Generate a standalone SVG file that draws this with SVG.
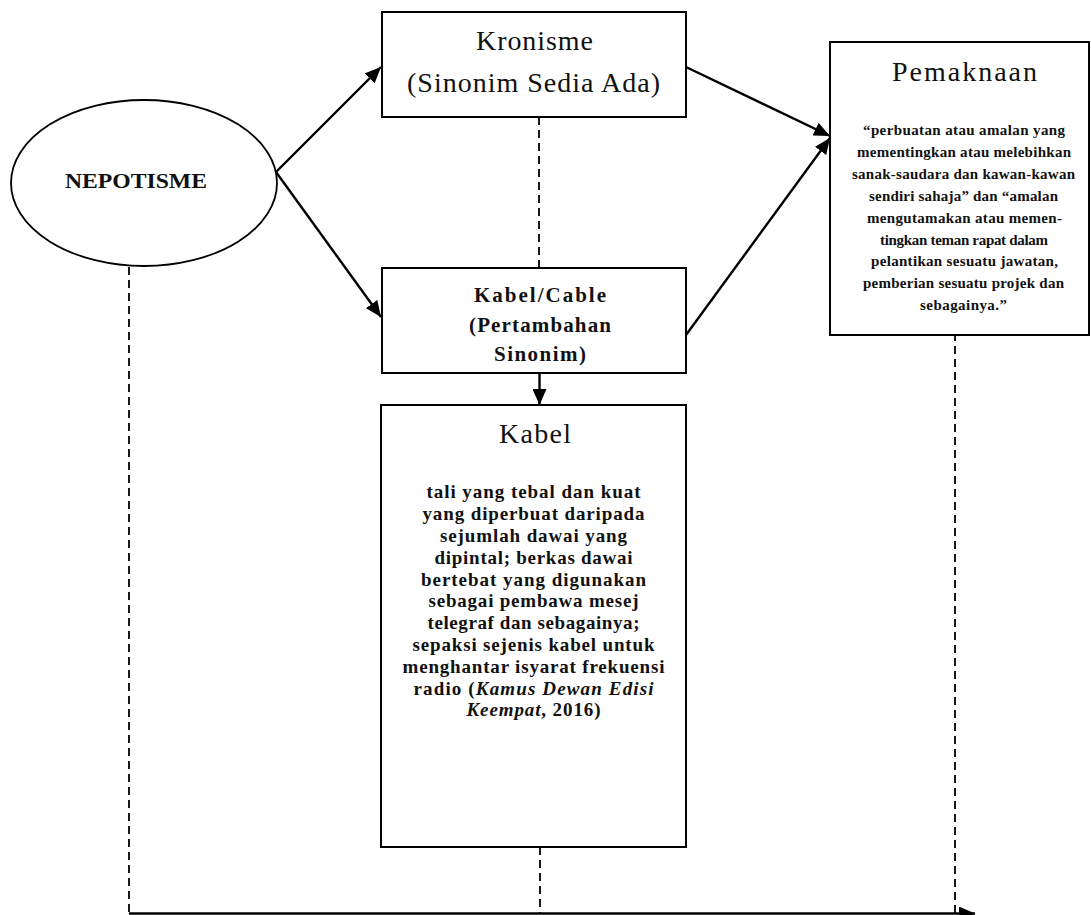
<svg xmlns="http://www.w3.org/2000/svg" width="1091" height="915" viewBox="0 0 1091 915">
<style>
.box{fill:#fff;stroke:#000;stroke-width:2}
.ell{fill:#fff;stroke:#000;stroke-width:1.8}
.ln{fill:none;stroke:#000;stroke-width:2.4}
.dash{fill:none;stroke:#000;stroke-width:1.8;stroke-dasharray:8 5}
text{font-family:"Liberation Serif","Times New Roman",serif;fill:#111;text-anchor:middle}
.t1{font-size:28px}
.tb{font-weight:bold}
.sm{font-size:15px;font-weight:bold}
.md{font-size:19px;font-weight:bold}
.kc{font-size:21px;font-weight:bold}
</style>
<defs>
<marker id="ah" viewBox="0 0 16 14" refX="16" refY="7" markerWidth="16" markerHeight="14" markerUnits="userSpaceOnUse" orient="auto">
<path d="M0,0 L16,7 L0,14 z" fill="#000"/>
</marker>
</defs>
<g id="connectors">
<line class="dash" x1="539" y1="117" x2="539" y2="268"/>
<line class="dash" x1="129" y1="267" x2="129" y2="913"/>
<line class="dash" x1="540" y1="847" x2="540" y2="913"/>
<line class="dash" x1="955" y1="320" x2="955" y2="913"/>
<line class="ln" x1="129" y1="913.5" x2="975" y2="913.5" stroke-width="1.5" marker-end="url(#ah)"/>
<line class="ln" x1="276" y1="172" x2="381" y2="67" marker-end="url(#ah)"/>
<line class="ln" x1="276" y1="172" x2="381" y2="317" marker-end="url(#ah)"/>
<line class="ln" x1="686" y1="67" x2="830" y2="136" marker-end="url(#ah)"/>
<line class="ln" x1="686" y1="335" x2="830" y2="138" marker-end="url(#ah)"/>
<line class="ln" x1="539.5" y1="373" x2="539.5" y2="405" marker-end="url(#ah)"/>
</g>
<g id="nepotisme">
<ellipse class="ell" cx="144" cy="183" rx="133" ry="83"/>
<text class="tb" x="136" y="188" font-size="21" textLength="142" lengthAdjust="spacingAndGlyphs">NEPOTISME</text>
</g>
<g id="kronisme">
<rect class="box" x="382" y="12" width="304" height="105"/>
<text class="t1" x="534.5" y="50" textLength="117">Kronisme</text>
<text class="t1" x="533.5" y="92" textLength="253">(Sinonim Sedia Ada)</text>
</g>
<g id="kabel-cable">
<rect class="box" x="382" y="268" width="304" height="105"/>
<text class="kc" x="540" y="302" textLength="132">Kabel/Cable</text>
<text class="kc" x="540" y="332" textLength="142">(Pertambahan</text>
<text class="kc" x="540" y="361" textLength="92">Sinonim)</text>
</g>
<g id="kabel">
<rect class="box" x="381" y="405" width="305" height="442"/>
<text class="t1" x="535" y="443" textLength="72">Kabel</text>
<text class="md" x="533.5" y="498.3" textLength="214">tali yang tebal dan kuat</text>
<text class="md" x="533.5" y="520.1" textLength="222">yang diperbuat daripada</text>
<text class="md" x="533.5" y="541.9" textLength="187">sejumlah dawai yang</text>
<text class="md" x="533.5" y="563.7" textLength="198">dipintal; berkas dawai</text>
<text class="md" x="533.5" y="585.5" textLength="225">bertebat yang digunakan</text>
<text class="md" x="533.5" y="607.3" textLength="210">sebagai pembawa mesej</text>
<text class="md" x="533.5" y="629.1" textLength="212">telegraf dan sebagainya;</text>
<text class="md" x="533.5" y="650.9" textLength="242">sepaksi sejenis kabel untuk</text>
<text class="md" x="533.5" y="672.7" textLength="262">menghantar isyarat frekuensi</text>
<text class="md" x="533.5" y="694.5" textLength="240">radio (<tspan font-style="italic">Kamus Dewan Edisi</tspan></text>
<text class="md" x="533.5" y="716.3" textLength="134"><tspan font-style="italic">Keempat</tspan>, 2016)</text>
</g>
<g id="pemaknaan">
<rect class="box" x="830" y="42" width="259" height="293"/>
<text class="t1" x="964.5" y="81" textLength="145">Pemaknaan</text>
<text class="sm" x="964" y="135" textLength="202">“perbuatan atau amalan yang</text>
<text class="sm" x="964" y="156.9" textLength="214">mementingkan atau melebihkan</text>
<text class="sm" x="963.5" y="178.8" textLength="223">sanak-saudara dan kawan-kawan</text>
<text class="sm" x="963.5" y="200.7" textLength="189">sendiri sahaja” dan “amalan</text>
<text class="sm" x="964.5" y="222.6" textLength="195">mengutamakan atau memen-</text>
<text class="sm" x="964" y="244.5" textLength="168">tingkan teman rapat dalam</text>
<text class="sm" x="964.5" y="266.4" textLength="187">pelantikan sesuatu jawatan,</text>
<text class="sm" x="963.5" y="288.3" textLength="201">pemberian sesuatu projek dan</text>
<text class="sm" x="963.5" y="310.2" textLength="87">sebagainya.”</text>
</g>
</svg>
